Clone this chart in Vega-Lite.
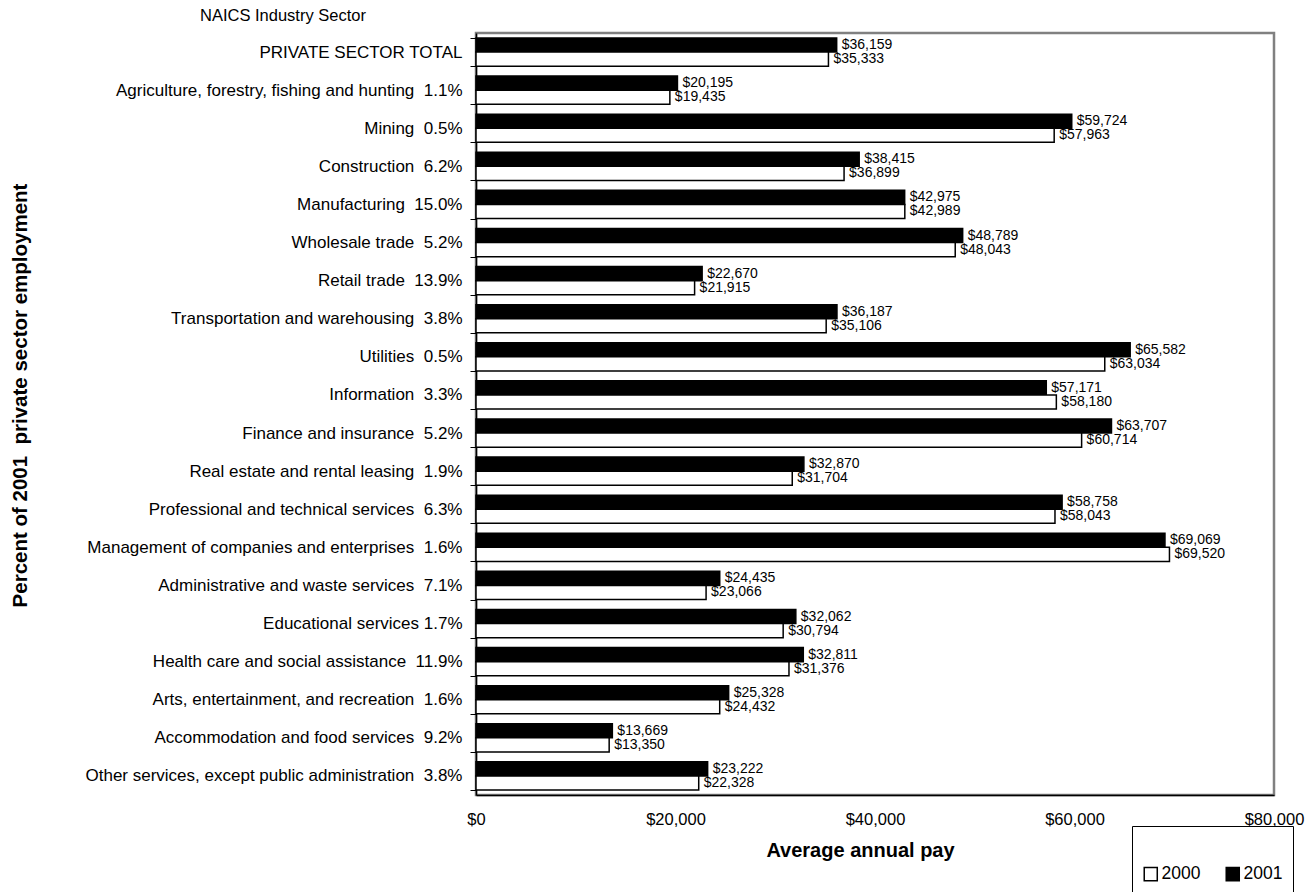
{
  "$schema": "https://vega.github.io/schema/vega-lite/v6.json",
  "width": 798,
  "height": 762,
  "autosize": {"type": "none"},
  "padding": {"left": 476, "top": 33, "right": 41, "bottom": 97},
  "background": "white",
  "config": {
    "font": "Liberation Sans",
    "view": {"stroke": "#808080", "strokeWidth": 2.5}
  },
  "title": {
    "text": "NAICS Industry Sector",
    "anchor": "start",
    "frame": "group",
    "dx": -276,
    "fontSize": 16.5,
    "fontWeight": "normal",
    "offset": 0,
    "color": "black"
  },
  "data": {
    "values": [
      {"sector": "PRIVATE SECTOR TOTAL", "year": "2001", "pay": 36159},
      {"sector": "PRIVATE SECTOR TOTAL", "year": "2000", "pay": 35333},
      {"sector": "Agriculture, forestry, fishing and hunting \u00a01.1%", "year": "2001", "pay": 20195},
      {"sector": "Agriculture, forestry, fishing and hunting \u00a01.1%", "year": "2000", "pay": 19435},
      {"sector": "Mining \u00a00.5%", "year": "2001", "pay": 59724},
      {"sector": "Mining \u00a00.5%", "year": "2000", "pay": 57963},
      {"sector": "Construction \u00a06.2%", "year": "2001", "pay": 38415},
      {"sector": "Construction \u00a06.2%", "year": "2000", "pay": 36899},
      {"sector": "Manufacturing \u00a015.0%", "year": "2001", "pay": 42975},
      {"sector": "Manufacturing \u00a015.0%", "year": "2000", "pay": 42989},
      {"sector": "Wholesale trade \u00a05.2%", "year": "2001", "pay": 48789},
      {"sector": "Wholesale trade \u00a05.2%", "year": "2000", "pay": 48043},
      {"sector": "Retail trade \u00a013.9%", "year": "2001", "pay": 22670},
      {"sector": "Retail trade \u00a013.9%", "year": "2000", "pay": 21915},
      {"sector": "Transportation and warehousing \u00a03.8%", "year": "2001", "pay": 36187},
      {"sector": "Transportation and warehousing \u00a03.8%", "year": "2000", "pay": 35106},
      {"sector": "Utilities \u00a00.5%", "year": "2001", "pay": 65582},
      {"sector": "Utilities \u00a00.5%", "year": "2000", "pay": 63034},
      {"sector": "Information \u00a03.3%", "year": "2001", "pay": 57171},
      {"sector": "Information \u00a03.3%", "year": "2000", "pay": 58180},
      {"sector": "Finance and insurance \u00a05.2%", "year": "2001", "pay": 63707},
      {"sector": "Finance and insurance \u00a05.2%", "year": "2000", "pay": 60714},
      {"sector": "Real estate and rental leasing \u00a01.9%", "year": "2001", "pay": 32870},
      {"sector": "Real estate and rental leasing \u00a01.9%", "year": "2000", "pay": 31704},
      {"sector": "Professional and technical services \u00a06.3%", "year": "2001", "pay": 58758},
      {"sector": "Professional and technical services \u00a06.3%", "year": "2000", "pay": 58043},
      {"sector": "Management of companies and enterprises \u00a01.6%", "year": "2001", "pay": 69069},
      {"sector": "Management of companies and enterprises \u00a01.6%", "year": "2000", "pay": 69520},
      {"sector": "Administrative and waste services \u00a07.1%", "year": "2001", "pay": 24435},
      {"sector": "Administrative and waste services \u00a07.1%", "year": "2000", "pay": 23066},
      {"sector": "Educational services 1.7%", "year": "2001", "pay": 32062},
      {"sector": "Educational services 1.7%", "year": "2000", "pay": 30794},
      {"sector": "Health care and social assistance \u00a011.9%", "year": "2001", "pay": 32811},
      {"sector": "Health care and social assistance \u00a011.9%", "year": "2000", "pay": 31376},
      {"sector": "Arts, entertainment, and recreation \u00a01.6%", "year": "2001", "pay": 25328},
      {"sector": "Arts, entertainment, and recreation \u00a01.6%", "year": "2000", "pay": 24432},
      {"sector": "Accommodation and food services \u00a09.2%", "year": "2001", "pay": 13669},
      {"sector": "Accommodation and food services \u00a09.2%", "year": "2000", "pay": 13350},
      {"sector": "Other services, except public administration \u00a03.8%", "year": "2001", "pay": 23222},
      {"sector": "Other services, except public administration \u00a03.8%", "year": "2000", "pay": 22328}
    ]
  },
  "encoding": {
    "y": {
      "field": "sector",
      "type": "nominal",
      "sort": null,
      "scale": {"paddingInner": 0.26, "paddingOuter": 0.13},
      "axis": {
        "title": "Percent of 2001 \u00a0private sector employment",
        "tickBand": "extent",
        "tickSize": 6,
        "tickColor": "black",
        "tickWidth": 1,
        "domainColor": "black",
        "domainWidth": 1.5,
        "grid": false,
        "labelFontSize": 17,
        "labelColor": "black",
        "labelPadding": 8,
        "labelLimit": 600,
        "titleFontSize": 20.5,
        "titleFontWeight": "bold",
        "titleColor": "black",
        "titleAngle": -90,
        "titleX": -456,
        "titleY": 362,
        "titleAlign": "center",
        "titleBaseline": "middle"
      }
    },
    "yOffset": {"field": "year", "type": "nominal", "sort": ["2001", "2000"]},
    "x": {
      "field": "pay",
      "type": "quantitative",
      "scale": {"domain": [0, 80000], "nice": false},
      "axis": {
        "title": "Average annual pay",
        "format": "$,.0f",
        "values": [0, 20000, 40000, 60000, 80000],
        "ticks": false,
        "grid": false,
        "domainColor": "black",
        "domainWidth": 1.5,
        "labelFontSize": 16.5,
        "labelColor": "black",
        "labelPadding": 16,
        "labelFlush": false,
        "titleFontSize": 20,
        "titleFontWeight": "bold",
        "titleColor": "black",
        "titleX": 384,
        "titleY": 55,
        "titleBaseline": "middle"
      }
    }
  },
  "layer": [
    {
      "mark": {"type": "bar", "stroke": "black", "strokeWidth": 1.5},
      "encoding": {
        "color": {
          "field": "year",
          "type": "nominal",
          "scale": {"domain": ["2000", "2001"], "range": ["white", "black"]},
          "legend": {
            "title": "\u00a0",
            "titleFontSize": 14,
            "titlePadding": 15,
            "orient": "none",
            "legendX": 656,
            "legendY": 793,
            "direction": "horizontal",
            "strokeColor": "black",
            "padding": 10,
            "symbolType": "square",
            "symbolSize": 170,
            "symbolStrokeColor": "black",
            "symbolStrokeWidth": 1.5,
            "symbolOpacity": 1,
            "labelFontSize": 17.5,
            "labelColor": "black",
            "labelOffset": 2,
            "columnPadding": 22
          }
        }
      }
    },
    {
      "mark": {"type": "text", "align": "left", "baseline": "middle", "dx": 5, "fontSize": 14, "color": "black"},
      "encoding": {
        "text": {"field": "pay", "type": "quantitative", "format": "$,.0f"}
      }
    }
  ]
}
